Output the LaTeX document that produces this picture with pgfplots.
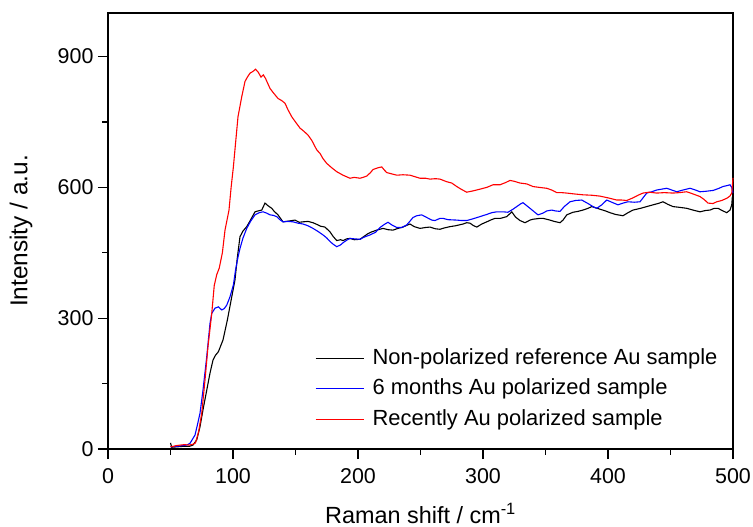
\documentclass[border=0pt]{standalone}
\usepackage{pgfplots}
\pgfplotsset{compat=1.18}
\usepackage{fontspec}
\setmainfont{Liberation Sans}
\begin{document}
\begin{tikzpicture}
\begin{axis}[
  name=ax,
  scale only axis,
  width=625bp, height=436bp,
  xmin=0, xmax=500, ymin=0, ymax=1000,
  xtick={0,100,200,300,400,500},
  ytick={0,300,600,900},
  minor x tick num=1, minor y tick num=1,
  xtick pos=bottom, ytick pos=left,
  tick align=outside,
  major tick length=10bp, minor tick length=5.5bp,
  axis line style={line width=1.4bp},
  every tick/.style={line width=1.2bp, black},
  /pgf/number format/assume math mode=true,
  tick label style={font=\fontsize{21.5}{24}\selectfont},
  xticklabel style={yshift=-6bp},
  yticklabel style={xshift=-1bp},
  xlabel={Raman shift / cm\textsuperscript{-1}},
  ylabel={Intensity / a.u.},
  xlabel style={font=\fontsize{23.5}{26}\selectfont, at={(axis description cs:0.5,-0.1468)}, anchor=center},
  ylabel style={font=\fontsize{24.5}{26}\selectfont, at={(axis description cs:-0.1392,0.5)}, anchor=center},
  scaled ticks=false,
  legend style={draw=none, fill=none, at={(0.331,0.232)}, anchor=north west,
    font=\fontsize{22}{24}\selectfont, row sep=10bp, inner sep=0pt,
    nodes={inner xsep=4.5bp, inner ysep=0pt, text height=16bp, text depth=4.5bp},
    /tikz/every odd column/.append style={column sep=4bp}},
  legend cell align=left,
  legend image code/.code={\draw[#1] (0bp,0bp) -- (48bp,0bp);},
  clip=false,
]
\addplot[black, line width=1.1bp] coordinates {
(50,14)(51,4)(55,5)(60,6)(65,6)(68,9)(71,21)(73.6,51)(76,90)(79,135)(81.6,174)(84,204)(86,215)(88.3,223)(92,250)(95.5,296)(99,349)(101.6,388)(103.5,440)(105.6,487)(108,500)(111,510)(114,525)(117.6,544)(120,546)(123,548)(125.6,564)(128,558)(131,552)(133,545)(136,537)(140,521)(145,523)(149.6,525)(153,520)(156,521)(160,522)(164,519)(168,514)(170,511)(173.6,509)(177.6,498)(180,488)(183,478)(186,480)(188,478)(191,482)(193.6,483)(197,480)(201.6,481)(205,488)(208,494)(211,498)(215,502)(220,506)(224,503)(228,502)(232,506)(236,509)(239,513)(241.6,516)(245,510)(249.6,506)(254,508)(257.6,509)(262,505)(265.6,504)(269,507)(273.6,510)(278,512)(284,516)(287,519)(289.6,518)(292,513)(295,509)(299,516)(303,521)(306,525)(309.6,529)(314,529)(319,533)(321.6,540)(323,544)(326,532)(329.6,524)(333.6,519)(337.6,525)(340,527)(345.6,529)(348,529)(353.6,525)(357,522)(361.6,519)(364,525)(367,537)(372,543)(376,545)(380,548)(384,552)(387,556)(393.6,550)(398,546)(401.6,542)(406,538)(412,535)(416,542)(420,548)(426,552)(431,556)(436,560)(440,563)(444,567)(448,561)(452,556)(458,554)(463,552)(468,548)(473.6,544)(478,547)(481.6,548)(485,552)(488,552)(492,546)(495,542)(497.6,548)(499,560)(499.5,579)
};
\addlegendentry{Non-polarized reference Au sample}
\addplot[blue, line width=1.1bp] coordinates {
(50,5)(55,6)(60,8)(63,9)(65.6,13)(67.5,22)(69.6,32)(71.5,55)(73.6,82)(76,135)(79,212)(81.6,288)(83,311)(85.6,323)(88.3,326)(91,319)(93,322)(95,330)(97.6,349)(100.3,376)(102,410)(104,440)(105.6,460)(108,484)(111,506)(114,522)(117.6,537)(121,542)(124,544)(127,541)(129.6,537)(132,536)(135,533)(137,527)(140,521)(144,522)(148,521)(152,518)(156,516)(160,512)(164,506)(168,499)(172,491)(175,484)(177.6,476)(180,470)(183,464)(186,468)(188,473)(191,479)(193.6,483)(197,482)(201.6,481)(205,486)(209.6,491)(214,497)(217.6,508)(221,515)(224,520)(227,514)(231,508)(235,508)(239,514)(242,524)(244,531)(247,535)(251,537)(255,531)(259,525)(261.6,524)(265.6,529)(268,529)(272,526)(279,525)(283,524)(287,524)(292,528)(297.6,533)(303,538)(307,542)(311,544)(316,544)(320,543)(324,550)(327,556)(330,562)(332,565)(335,558)(337.6,552)(341,544)(344,537)(348,541)(351,546)(355,548)(358,546)(361.6,545)(365,556)(369.6,567)(374,570)(379,571)(384,563)(388,556)(391,552)(395,560)(399,571)(403,566)(408,560)(412,564)(416,567)(421,566)(425.6,567)(428,576)(431,587)(435,590)(439,594)(443,596)(447,598)(451,594)(455,590)(460,594)(465.6,598)(469,595)(473.6,590)(478,591)(484,593)(488,597)(492,602)(495,604)(497.6,606)(499,600)(500,587)
};
\addlegendentry{6 months Au polarized sample}
\addplot[red, line width=1.1bp] coordinates {
(50,5)(52,6)(55,8)(58,9)(61,10)(65,9)(68,11)(70,14)(72.5,40)(75,82)(77.6,158)(80,235)(83,311)(85,375)(87,400)(89,415)(91.5,450)(93.6,502)(96.8,548)(98.5,600)(100.3,647)(102,700)(104,762)(107,808)(109.6,843)(111.5,853)(113.6,862)(116,866)(118,871)(120,865)(122.4,853)(124.3,858)(126,850)(129.6,827)(132,818)(136,804)(139,799)(141.6,793)(144,778)(147,762)(150,750)(153.6,736)(157,728)(160,720)(163,708)(167,686)(169.6,678)(172,666)(175,655)(179,645)(183,636)(188,628)(193.6,621)(197,623)(201.6,621)(204,623)(207,626)(210,634)(212,641)(216,645)(219,647)(221,640)(223,634)(227,631)(231,628)(236,629)(241.6,628)(245,625)(249.6,621)(254,621)(257.6,619)(262,620)(265.6,619)(271,613)(275,610)(279,602)(283,595)(287,589)(292,592)(297.6,596)(303,600)(308,606)(313.6,606)(318,611)(321.6,616)(325,614)(329.6,610)(335,608)(340,602)(345,600)(350.9,598)(355,594)(359,588)(363,588)(366.9,587)(373,585)(380,583)(387,582)(393.6,580)(400,576)(407,571)(411,571)(415,570)(420,576)(424,582)(428,587)(433,589)(439,587)(445,588)(452,587)(457,588)(463,590)(468,585)(473.6,579)(477,572)(480,564)(484,563)(487,567)(491,570)(495,575)(497.5,580)(499,587)(500,622)
};
\addlegendentry{Recently Au polarized sample}
\end{axis}
\pgfresetboundingbox
\path[use as bounding box] ([shift={(-108bp,-78bp)}]ax.south west) rectangle ([shift={(20bp,13bp)}]ax.north east);
\end{tikzpicture}
\end{document}
